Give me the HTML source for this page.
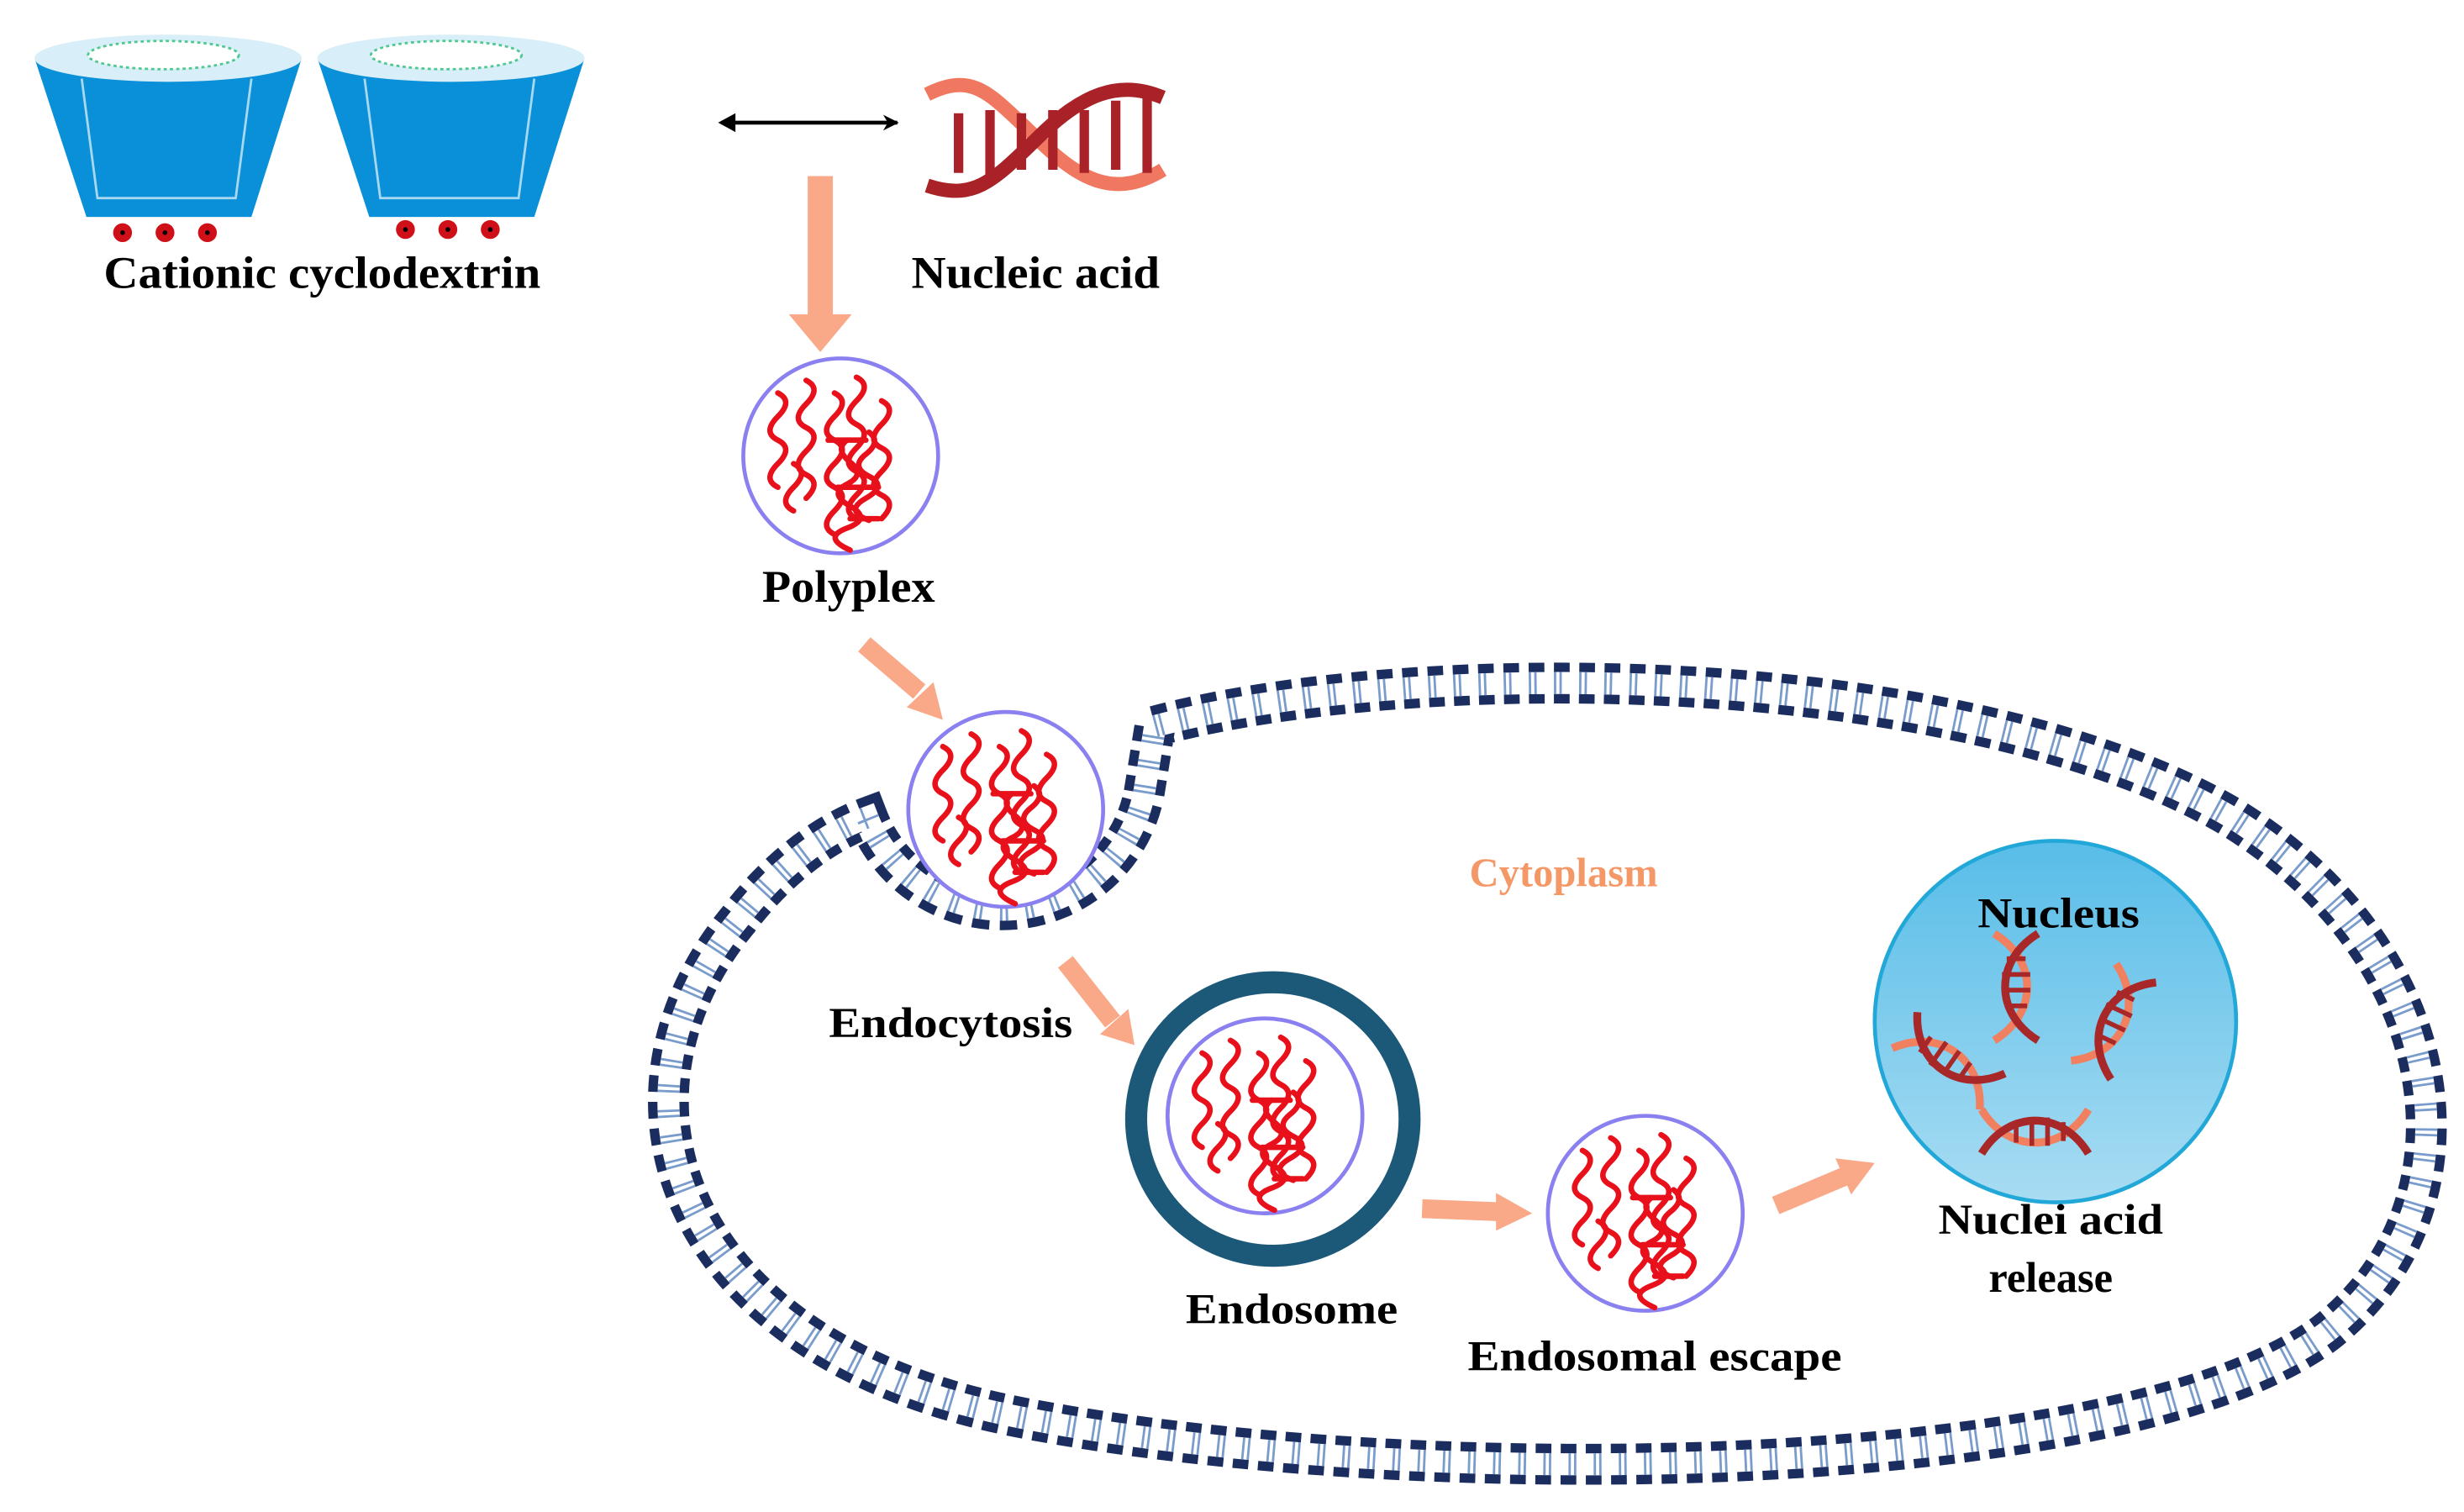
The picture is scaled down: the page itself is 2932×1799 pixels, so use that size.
<!DOCTYPE html>
<html><head><meta charset="utf-8"><style>
html,body{margin:0;padding:0;background:#fff;}
svg{display:block;}
text{font-family:"Liberation Serif",serif;font-weight:bold;}
</style></head><body>
<svg width="2932" height="1799" viewBox="0 0 1568 962" xmlns="http://www.w3.org/2000/svg">
<defs>
  <path id="memp" d="M735,462 C900,418 1250,420 1420,520 C1565,610 1580,770 1480,848 C1350,945 900,950 650,902 C430,860 375,700 470,585 C495,552 525,530 552,520 A92,92 0 0 0 728,505 Z"/>
  <g id="sq" fill="none" stroke="#e8101a" stroke-width="3.5" stroke-linecap="round">
    <path d="M-40,-40 q10,5 0,15 t0,15 t0,15 t0,15"/>
    <path d="M-22,-48 q10,5 0,15 t0,15 t0,15 t0,15 t0,15"/>
    <path d="M-4,-40 q10,5 0,15 t0,15 t0,15 t0,15 t0,15 t0,15"/>
    <path d="M10,-50 q10,5 0,15 t0,15 t0,15 t0,15 t0,15 t0,15"/>
    <path d="M26,-35 q10,5 0,15 t0,15 t0,15 t0,15 t0,15"/>
    <path d="M-30,5 q10,5 0,15 t0,15"/>
    <path d="M4,-10 q-8,6 2,14 t-2,14 t2,14 t-2,14 t2,14"/>
    <path d="M18,-15 q8,6 -2,14 t2,14 t-2,14 t2,14"/>
    <path d="M-8,-10 h24 M-2,20 h26 M6,40 h18"/>
  </g>
  <g id="poly">
    <circle r="62" fill="#fff" stroke="#8a80f0" stroke-width="2.5"/>
    <use href="#sq"/>
  </g>
  <g id="dnaS" fill="none" stroke-width="5">
    <path d="M-14,-34 C14,-17 14,17 -14,34" stroke="#f08060"/>
    <path d="M14,-34 C-14,-17 -14,17 14,34" stroke="#a8282a"/>
    <path d="M-6,-18 h12 M-9,-8 h18 M-9,2 h18 M-7,12 h14" stroke="#a8282a" stroke-width="3"/>
  </g>
  <marker id="ah" markerWidth="10" markerHeight="10" refX="9" refY="5" orient="auto" markerUnits="userSpaceOnUse" viewBox="0 0 10 10"><path d="M0,0 L10,5 L0,10 L3,5z" fill="#000"/></marker>
  <linearGradient id="ng" x1="0" y1="0" x2="0" y2="1"><stop offset="0" stop-color="#58bde8"/><stop offset="1" stop-color="#a8dcf2"/></linearGradient>
</defs>

<!-- cups -->
<g>
  <path d="M22,37 L192,37 L160,138 L55,138 Z" fill="#0a90d8"/>
  <ellipse cx="107" cy="37" rx="85" ry="15" fill="#d8eef8"/>
  <ellipse cx="104" cy="35" rx="48" ry="9" fill="#fff" stroke="#50c890" stroke-width="1.5" stroke-dasharray="2 2"/>
  <path d="M52,50 L62,126 L150,126 L160,50" fill="none" stroke="#a8d8f0" stroke-width="1.5"/>
  <path d="M202,37 L372,37 L340,138 L235,138 Z" fill="#0a90d8"/>
  <ellipse cx="287" cy="37" rx="85" ry="15" fill="#d8eef8"/>
  <ellipse cx="284" cy="35" rx="48" ry="9" fill="#fff" stroke="#50c890" stroke-width="1.5" stroke-dasharray="2 2"/>
  <path d="M232,50 L242,126 L330,126 L340,50" fill="none" stroke="#a8d8f0" stroke-width="1.5"/>
  <g fill="#d01018"><circle cx="78" cy="148" r="6"/><circle cx="105" cy="148" r="6"/><circle cx="132" cy="148" r="6"/><circle cx="258" cy="146" r="6"/><circle cx="285" cy="146" r="6"/><circle cx="312" cy="146" r="6"/></g>
  <g fill="#000"><circle cx="78" cy="148" r="1.5"/><circle cx="105" cy="148" r="1.5"/><circle cx="132" cy="148" r="1.5"/><circle cx="258" cy="146" r="1.5"/><circle cx="285" cy="146" r="1.5"/><circle cx="312" cy="146" r="1.5"/></g>
</g>
<text x="205" y="183" font-size="29" text-anchor="middle" textLength="278" lengthAdjust="spacingAndGlyphs">Cationic cyclodextrin</text>

<!-- double arrow -->
<line x1="459" y1="78" x2="571" y2="78" stroke="#000" stroke-width="2.5" marker-end="url(#ah)"/>
<path d="M457,78 l11,-6 v12z" fill="#000"/>

<!-- DNA -->
<g fill="none" stroke-width="9">
  <path d="M590,60 C620,45 630,60 660,88 C690,118 712,125 740,108" stroke="#f07860"/>
  <path d="M590,118 C620,128 632,115 660,88 C688,60 712,50 740,62" stroke="#a82228"/>
  <path d="M610,72 v38 M630,70 v42 M650,72 v36 M670,70 v38 M690,70 v40 M710,64 v44 M730,60 v50" stroke="#a82228" stroke-width="6"/>
</g>
<text x="659" y="183" font-size="29" text-anchor="middle" textLength="158" lengthAdjust="spacingAndGlyphs">Nucleic acid</text>

<!-- orange arrows -->
<g fill="#f9a888">
  <path d="M514,112 h16 v88 h12 l-20,24 l-20,-24 h12z"/>
</g>
<g stroke="#f9a888" stroke-width="12" fill="none">
  <line x1="550" y1="410" x2="585" y2="440"/>
  <line x1="678" y1="612" x2="708" y2="650"/>
  <line x1="905" y1="769" x2="955" y2="771"/>
  <line x1="1130" y1="767" x2="1175" y2="748"/>
</g>
<g fill="#f9a888">
  <path d="M577,450 L600,458 L594,434z"/>
  <path d="M700,658 L722,665 L718,642z"/>
  <path d="M952,759 L975,772 L952,783z"/>
  <path d="M1168,737 L1193,740 L1178,760z"/>
</g>

<use href="#poly" x="535" y="290"/>
<text x="540" y="383" font-size="29" text-anchor="middle" textLength="110" lengthAdjust="spacingAndGlyphs">Polyplex</text>

<!-- membrane -->
<g fill="none">
  <use href="#memp" stroke="#1a2d5e" stroke-width="26" stroke-dasharray="10 6"/>
  <use href="#memp" stroke="#fff" stroke-width="14"/>
  <use href="#memp" stroke="#7a9ccc" stroke-width="14" stroke-dasharray="1.5 2 1.5 11"/>
</g>

<use href="#poly" x="640" y="515"/>

<text x="995" y="564" font-size="26" text-anchor="middle" fill="#f59868">Cytoplasm</text>
<text x="605" y="660" font-size="27" text-anchor="middle" textLength="155" lengthAdjust="spacingAndGlyphs">Endocytosis</text>

<!-- endosome -->
<circle cx="810" cy="712" r="87" fill="#fff" stroke="#1c5878" stroke-width="14"/>
<use href="#poly" x="805" y="710"/>
<text x="822" y="842" font-size="27" text-anchor="middle" textLength="135" lengthAdjust="spacingAndGlyphs">Endosome</text>

<use href="#poly" x="1047" y="772"/>
<text x="1053" y="872" font-size="27" text-anchor="middle" textLength="238" lengthAdjust="spacingAndGlyphs">Endosomal escape</text>

<!-- nucleus -->
<circle cx="1308" cy="650" r="115" fill="url(#ng)" stroke="#22a8d8" stroke-width="2.5"/>
<text x="1310" y="590" font-size="27" text-anchor="middle" textLength="103" lengthAdjust="spacingAndGlyphs">Nucleus</text>
<use href="#dnaS" x="1283" y="628"/>
<use href="#dnaS" transform="translate(1345,650) rotate(25)"/>
<use href="#dnaS" transform="translate(1240,675) rotate(-55)"/>
<use href="#dnaS" transform="translate(1295,720) rotate(90)"/>
<text x="1305" y="785" font-size="27" text-anchor="middle" textLength="143" lengthAdjust="spacingAndGlyphs">Nuclei acid</text>
<text x="1305" y="822" font-size="27" text-anchor="middle">release</text>
</svg>
</body></html>
